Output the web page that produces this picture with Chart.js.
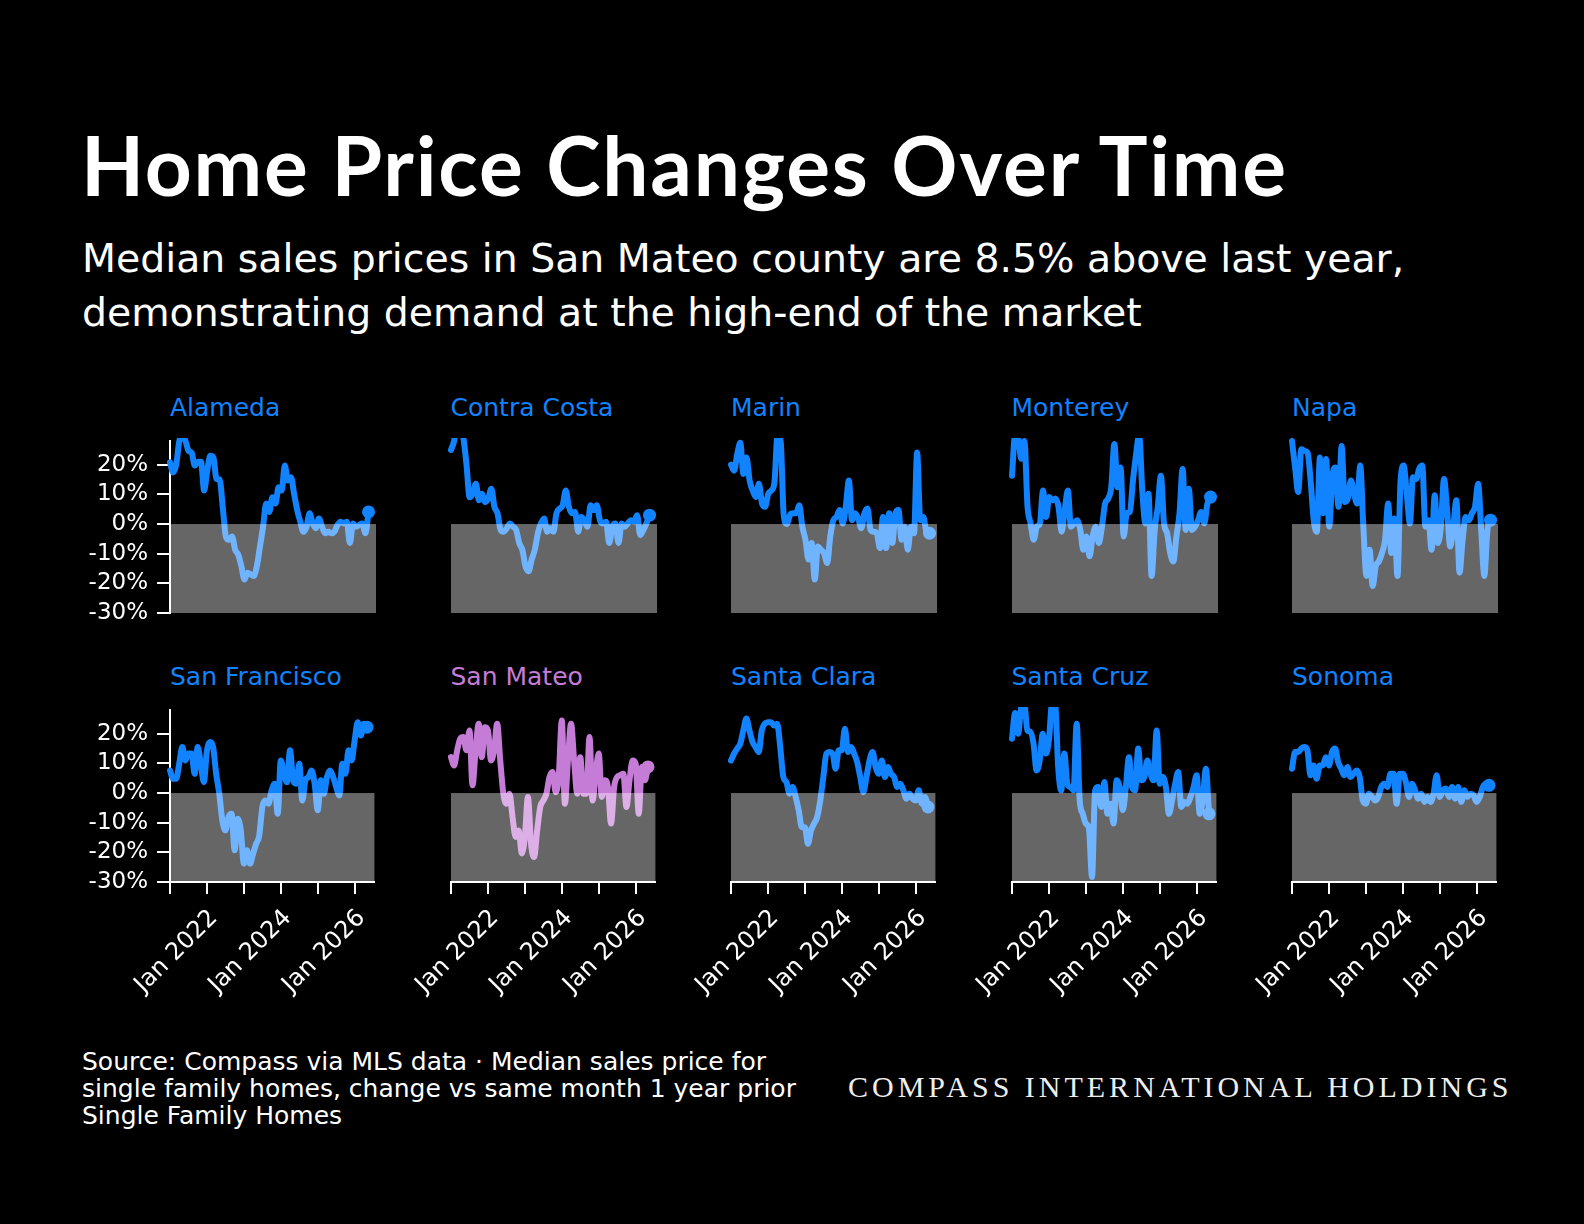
<!DOCTYPE html>
<html lang="en">
<head>
  <meta charset="UTF-8">
  <title>Home Price Changes Over Time</title>
  <script src="https://cdn.jsdelivr.net/npm/chart.js"></script>
  <style>
    body {
      margin: 0;
      background: #000;
      width: 1584px;
      height: 1224px;
      position: relative;
      overflow: hidden;
      font-family: "DejaVu Sans", sans-serif;
      color: #fff;
    }
    .title {
      position: absolute;
      left: 81px;
      top: 115px;
      font-family: Lato, sans-serif;
      font-size: 82px;
      font-weight: 700;
      letter-spacing: 1.8px;
      line-height: 1.2;
      white-space: nowrap;
    }
    .subtitle {
      position: absolute;
      left: 82px;
      top: 231px;
      font-size: 39.4px;
      line-height: 54px;
      white-space: nowrap;
    }
    .panel-name {
      position: absolute;
      font-size: 25px;
      line-height: 30px;
      white-space: nowrap;
    }
    canvas { position: absolute; }
    .source {
      position: absolute;
      left: 82px;
      top: 1048px;
      font-size: 25px;
      line-height: 27px;
      white-space: nowrap;
    }
    .logo {
      position: absolute;
      left: 848px;
      top: 1072px;
      font-family: "Liberation Serif", serif;
      font-size: 30px;
      line-height: 30px;
      letter-spacing: 4px;
      color: #eee;
      white-space: nowrap;
    }
  </style>
</head>
<body>
  <div class="title">Home Price Changes Over Time</div>
  <div class="subtitle">Median sales prices in San Mateo county are 8.5% above last year,<br>demonstrating demand at the high-end of the market</div>
  <div id="panels"></div>
  <div class="source">Source: Compass via MLS data · Median sales price for<br>single family homes, change vs same month 1 year prior<br>Single Family Homes</div>
  <div class="logo">COMPASS INTERNATIONAL HOLDINGS</div>

  <script>
    // monthly points, Jan 2021 .. May 2026
    const START_YEAR = 2021;
    const MONTH_COUNT = 65;
    const yTicks = [-30, -20, -10, 0, 10, 20];
    const xLabelYears = [2022, 2024, 2026];

    const counties = ["Alameda", "Contra Costa", "Marin", "Monterey", "Napa",
                      "San Francisco", "San Mateo", "Santa Clara", "Santa Cruz", "Sonoma"];

    // % change vs same month 1 year prior
    const alameda = [20.8, 17.4, 20, 28, 30, 28, 24.7, 24, 19.7, 21,
      21, 11.3, 18, 23, 22.4, 15.2, 15, 5.8, -4.2, -5.3,
      -4.2, -8.7, -10.3, -14.2, -18.7, -16.4, -17, -17.5, -14.2, -7.6,
      -0.9, 6.9, 4.1, 9, 6.9, 12.4, 11.3, 19.7, 14.7, 15.8,
      10.2, 4.7, 0.8, -2.6, -0.9, 3.6, 0.2, -1.4, 1.9, -0.9,
      -3.1, -2.6, -3.1, -2.6, -0.3, 0.8, 0.2, 0.8, -6.4, 0.2,
      -0.9, -0.3, 0.2, -3.1, 4.1];
    const contraCosta = [25, 28, 34, 33, 29, 20, 9, 10.2, 13.6, 8,
      10.2, 7.4, 8.6, 11.9, 5.8, 3.6, -2, -2.6, -1.4, 0.2,
      -0.9, -2, -6.4, -8.7, -14.2, -15.9, -12, -8.7, -3.1, 0.2,
      1.9, -2.6, -1.4, -2.6, 3.6, 5.2, 6.3, 11.3, 5.8, 3.6,
      4.1, -2.6, 2.4, 1.3, -0.9, 6.3, 4.7, 6.3, 1.3, 0.2,
      0.8, -6.4, -0.9, 0.2, -6.4, 0.2, -0.9, 0.2, 1.3, 0.8,
      3, -3.7, -2, 0.2, 3];
    const marin = [20, 18, 23.5, 27.4, 16.9, 22.4, 14.7, 11.3, 9.1, 13.6,
      6.9, 5.8, 10.2, 11.3, 14, 30, 28, 3, 0, 3,
      3.6, 3.6, 6.3, -0.9, -5.3, -12, -6.4, -18.7, -7.6, -8.7,
      -9.8, -13.1, -4.2, 1.3, 2.4, 4.7, 0.2, 5.8, 14.7, 1.3,
      3.6, 1.9, -1.4, 3.6, 5.2, -2, -2.6, -3.1, -8.1, 2.4,
      -8.1, 3.6, -6.4, 3.6, 4.7, -5.3, -0.9, -8.7, -0.9, -3.1,
      24.1, 1.3, 2.4, -2.6, -3.1];
    const monterey = [16.3, 30, 29, 22, 28, 6, 0.2, -5.3, -0.9, 0.2,
      11.3, 2.4, 9.1, 8, 8.6, 5.8, -2.6, 4.7, 11.3, -0.9,
      0.2, 1.3, -2, -8.7, -4.2, -10.9, -4.2, -0.9, -6.4, -0.9,
      6.9, 8.6, 12.4, 27, 12.4, 19.1, -4.2, 3.6, 4.1, 14.7,
      23.5, 30, 11.3, 0.2, 10.2, -17.5, -2, 5.8, 16.3, 0.2,
      -3.1, -9.8, -12.6, -4.2, 3.6, 18.6, -2, 11.9, -2, -0.9,
      1.3, 4.1, 0.2, 6.9, 9.1];
    const napa = [28, 19.1, 10.8, 25.2, 24.7, 24.1, 14.7, 1.3, -2.6, 22.4,
      3.6, 21.9, -0.9, 15.8, 19.1, 5.8, 26.3, 7.4, 8.6, 14.7,
      10.2, 6.9, 19.7, -0.9, -17.5, -8.7, -20.9, -14.2, -12.6, -9.8,
      -5.3, 6.9, -9.8, 1.9, -17.5, 14.7, 19.7, 10.2, 0.2, 15.8,
      15.2, 18.6, 19.7, -0.9, 1.3, -8.7, 9.7, -6.4, -0.9, 15.2,
      4.7, -7.6, -0.9, 8, -16.4, -5.3, 2.4, 1.3, 3.6, 5.8,
      13.6, -2, -17.5, -2, 1.3];
    const sanFrancisco = [7.6, 4.8, 4.8, 9.9, 15.5, 11, 13.3, 13.3, 6.5, 15.5,
      9.9, 3.7, 14.4, 17.2, 15.5, 6.5, -0.2, -9.2, -12.6, -8.1,
      -7, -19.3, -8.7, -12.6, -23.8, -19.3, -23.8, -20.4, -17.1, -14.3,
      -4.7, -2.5, -3.6, 0.9, 3.1, -7, 11, 6.5, 3.7, 14.4,
      4.3, 3.1, 9.9, -2.5, 4.3, 5.4, 7.6, 3.1, -5.8, 4.3,
      -0.2, 5.4, 7.6, 5.4, 2, -0.8, 9.9, 6.5, 14.4, 11,
      17.8, 23.9, 19.4, 23.4, 22.2];
    const sanMateo = [12.1, 9.3, 14.4, 18.3, 18.9, 14.4, 21.1, 2.6, 14.4, 23.4,
      12.1, 22.2, 21.1, 11, 14.4, 23.4, 11, -0.2, -3.6, -0.2,
      -8.1, -14.8, -12.6, -20.4, -14.8, -1.3, -17.1, -21.6, -12.6, -4.7,
      -2.5, -0.2, 5.4, 7.1, 0.3, 5.4, 24.5, -3.6, 11, 23.4,
      11, -0.2, 12.1, -0.2, -0.2, 18.9, -2.5, 6.5, 13.3, -1.3,
      4.3, 2, -10.3, 2, 5.4, 6, 6.5, -4.7, 4.3, 11,
      9.9, -7, 8.8, 4.3, 8.8];
    const santaClara = [11, 13.3, 15, 16.6, 21.1, 25.1, 21.1, 17.2, 15.5, 13.8,
      21.1, 23.4, 23.9, 23.9, 22.8, 23.4, 15.5, 5.4, 3.7, -0.2,
      2, -1.3, -5.8, -11.5, -11.5, -17.1, -12.6, -10.3, -8.1, -2.5,
      5.4, 13.3, 13.8, 13.3, 8.2, 14.4, 14.4, 21.7, 13.8, 15.5,
      13.3, 10.4, 5.4, 0.3, 5.4, 11, 13.8, 8.8, 6.5, 11,
      5.4, 8.8, 6.5, 5.4, 2, 3.1, 0.9, -1.9, -0.2, -1.9,
      -2.5, 0.9, -3.6, -1.3, -4.7];
    const santaCruz = [18.3, 27, 20, 29, 30, 21.1, 20.6, 16.6, 7.6, 11,
      20, 13.3, 17.8, 30, 30, 8.8, 0.9, 13.3, 3.1, 2,
      0.9, 23.4, -2.5, -7, -10.3, -12, -28.3, 0.9, 2, -4.7,
      3.7, -7, -3.6, -10.3, 4.3, 2, -5.8, 2, 12.1, 2,
      0.9, 15, 4.3, 5.4, 11, 6.5, 4.3, 21.1, 3.1, 5.4,
      2, -7, -2.5, 3.1, 7.1, -4.7, -3, -3.6, -1.3, 2,
      6, -7, -1.9, 8.2, -7];
    const sonoma = [8.2, 13.8, 13.8, 15, 15.5, 14.4, 6, 9.3, 4.8, 9.3,
      9.3, 12.1, 9.3, 13.8, 15, 10.4, 8.2, 6, 8.8, 5.4,
      6.5, 7.6, 5.4, -2.5, -3.6, -0.2, -1.3, -2.5, -1.3, 2,
      3.1, 2, 6.5, 6.5, -3.6, 6.5, 6.5, 3.7, -1.3, 3.1,
      0.9, -1.9, -0.2, -3, -1.3, -3, -0.2, 6, -1.3, 0.9,
      1.5, -1.3, 2, -1.9, 2, -3, 0.9, -1.3, -0.2, -0.8,
      -3, -1.3, 2, 3.1, 2.6];

    const series = [alameda, contraCosta, marin, monterey, napa,
                    sanFrancisco, sanMateo, santaClara, santaCruz, sonoma];

    const BLUE = "#1283ff";
    const PURPLE = "#c57cd6";
    const HIGHLIGHT = "San Mateo";

    Chart.defaults.font.family = "'DejaVu Sans', sans-serif";
    Chart.defaults.color = "#fff";

    const monthX = Array.from({ length: MONTH_COUNT }, (_, i) => START_YEAR + i / 12);

    // layout of the small multiples
    const colLeft = [170, 450.5, 731, 1011.5, 1292];
    const rowTop = [441, 710];
    const PLOT_W = 206, PLOT_H = 172;
    const Y_AXIS_W = 100, PAD = 10, PAD_TOP = 24, PAD_BOTTOM = 24, X_AXIS_H = 130;

    // light veil over the negative region (also lightens the line underneath)
    const negativeShade = {
      id: "negativeShade",
      afterDatasetsDraw(chart) {
        const { ctx, chartArea: a, scales: { y } } = chart;
        const y0 = y.getPixelForValue(0);
        ctx.save();
        ctx.fillStyle = "rgba(255,255,255,0.4)";
        ctx.fillRect(a.left, y0, a.right - a.left, a.bottom - y0);
        ctx.restore();
      }
    };

    const holder = document.getElementById("panels");

    counties.forEach((name, i) => {
      const row = Math.floor(i / 5), col = i % 5;
      const showY = col === 0, showX = row === 1;
      const color = name === HIGHLIGHT ? PURPLE : BLUE;
      const values = series[i];

      const label = document.createElement("div");
      label.className = "panel-name";
      label.textContent = name;
      label.style.color = color;
      label.style.left = colLeft[col] + "px";
      label.style.top = (rowTop[row] - 48) + "px";
      holder.appendChild(label);

      const canvas = document.createElement("canvas");
      canvas.width = Y_AXIS_W + PLOT_W + PAD;
      canvas.height = PAD_TOP + PLOT_H + (showX ? X_AXIS_H : PAD_BOTTOM);
      canvas.style.left = (colLeft[col] - Y_AXIS_W) + "px";
      canvas.style.top = (rowTop[row] - PAD_TOP) + "px";
      holder.appendChild(canvas);

      new Chart(canvas, {
        type: "line",
        data: {
          datasets: [{
            data: values.map((v, k) => ({ x: monthX[k], y: v })),
            borderColor: color,
            backgroundColor: color,
            borderWidth: 6,
            borderCapStyle: "round",
            borderJoinStyle: "round",
            cubicInterpolationMode: "monotone",
            pointRadius: ctx => ctx.dataIndex === values.length - 1 ? 6.5 : 0,
            pointBorderWidth: 0,
            clip: 3
          }]
        },
        options: {
          responsive: false,
          animation: false,
          events: [],
          layout: { padding: { top: PAD_TOP, right: PAD, bottom: showX ? 0 : PAD_BOTTOM, left: 0 } },
          plugins: { legend: { display: false }, tooltip: { enabled: false } },
          scales: {
            x: {
              type: "linear",
              min: START_YEAR,
              max: 2026.534,
              display: showX,
              border: { color: "#fff", width: 2 },
              grid: { drawOnChartArea: false, tickLength: 12, color: "#fff", lineWidth: 2 },
              ticks: {
                stepSize: 1,
                includeBounds: false,
                autoSkip: false,
                minRotation: 45,
                maxRotation: 45,
                padding: 10,
                labelOffset: 7,
                font: { size: 24 },
                color: "#fff",
                callback: v => xLabelYears.includes(v) ? "Jan " + v : ""
              },
              afterFit: s => { s.height = showX ? X_AXIS_H : 0; }
            },
            y: {
              min: -30,
              max: 28,
              border: { display: showY, color: "#fff", width: 2 },
              grid: { display: showY, drawOnChartArea: false, tickLength: 13, color: "#fff", lineWidth: 2 },
              ticks: {
                display: showY,
                stepSize: 10,
                includeBounds: false,
                autoSkip: false,
                padding: 9,
                font: { size: 23 },
                color: "#fff",
                callback: v => yTicks.includes(v) ? v + "%" : ""
              },
              afterFit: s => { s.width = Y_AXIS_W; }
            }
          }
        },
        plugins: [negativeShade]
      });
    });
  </script>
</body>
</html>
